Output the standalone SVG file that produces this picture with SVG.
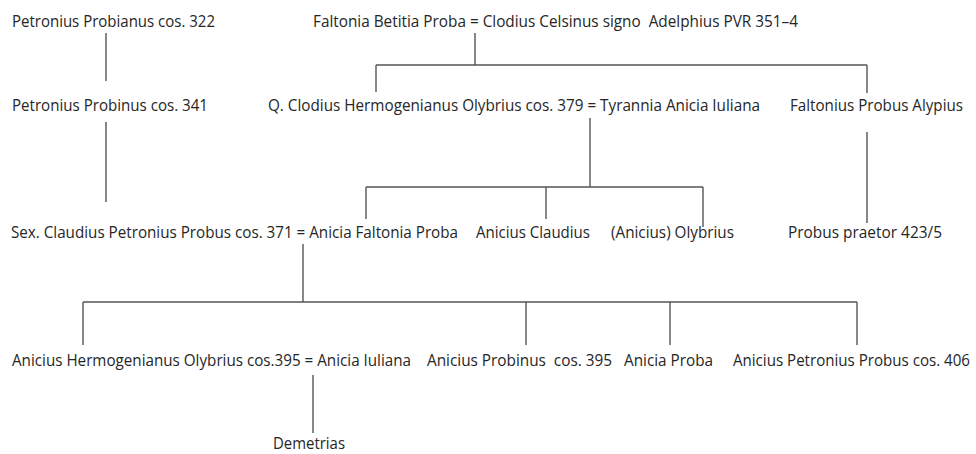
<svg xmlns="http://www.w3.org/2000/svg" width="976" height="454" viewBox="0 0 976 454">
<style>
text{font-family:"Open Sans","Noto Sans","Liberation Sans",sans-serif;font-size:16px;fill:#262626}
.c line{stroke:#555;stroke-width:1.4;fill:none}
</style>
<rect width="976" height="454" fill="#fff"/>
<g class="c" id="connectors">
<line x1="106" y1="33" x2="106" y2="81"/>
<line x1="106" y1="122" x2="106" y2="202"/>
<line x1="475" y1="33" x2="475" y2="65"/>
<line x1="376" y1="65" x2="867" y2="65"/>
<line x1="376" y1="65" x2="376" y2="92"/>
<line x1="867" y1="65" x2="867" y2="93"/>
<line x1="867" y1="132" x2="867" y2="223"/>
<line x1="590" y1="118" x2="590" y2="187"/>
<line x1="366" y1="187" x2="703" y2="187"/>
<line x1="366" y1="187" x2="366" y2="219"/>
<line x1="546" y1="187" x2="546" y2="219"/>
<line x1="703" y1="187" x2="703" y2="227"/>
<line x1="303" y1="244" x2="303" y2="302"/>
<line x1="83" y1="302" x2="857" y2="302"/>
<line x1="83" y1="302" x2="83" y2="345"/>
<line x1="526" y1="302" x2="526" y2="345"/>
<line x1="670" y1="302" x2="670" y2="345"/>
<line x1="857" y1="302" x2="857" y2="345"/>
<line x1="313" y1="375" x2="313" y2="433"/>
</g>
<g id="n1"><text x="12" y="27" textLength="203" lengthAdjust="spacingAndGlyphs">Petronius Probianus cos. 322</text></g>
<g id="n2"><text x="313" y="27" textLength="485" lengthAdjust="spacingAndGlyphs" xml:space="preserve">Faltonia Betitia Proba = Clodius Celsinus signo  Adelphius PVR 351–4</text></g>
<g id="n3"><text x="12" y="111" textLength="196" lengthAdjust="spacingAndGlyphs">Petronius Probinus cos. 341</text></g>
<g id="n4"><text x="268" y="111" textLength="492" lengthAdjust="spacingAndGlyphs">Q. Clodius Hermogenianus Olybrius cos. 379 = Tyrannia Anicia Iuliana</text></g>
<g id="n5"><text x="790" y="111" textLength="173" lengthAdjust="spacingAndGlyphs">Faltonius Probus Alypius</text></g>
<g id="n6"><text x="11" y="238" textLength="447" lengthAdjust="spacingAndGlyphs">Sex. Claudius Petronius Probus cos. 371 = Anicia Faltonia Proba</text></g>
<g id="n7"><text x="476" y="238" textLength="114" lengthAdjust="spacingAndGlyphs">Anicius Claudius</text></g>
<g id="n8"><text x="611" y="238" textLength="123" lengthAdjust="spacingAndGlyphs">(Anicius) Olybrius</text></g>
<g id="n9"><text x="788" y="238" textLength="154" lengthAdjust="spacingAndGlyphs">Probus praetor 423/5</text></g>
<g id="n10"><text x="12" y="366" textLength="399" lengthAdjust="spacingAndGlyphs">Anicius Hermogenianus Olybrius cos.395 = Anicia Iuliana</text></g>
<g id="n11"><text x="427" y="366" textLength="185" lengthAdjust="spacingAndGlyphs" xml:space="preserve">Anicius Probinus  cos. 395</text></g>
<g id="n12"><text x="624" y="366" textLength="89" lengthAdjust="spacingAndGlyphs">Anicia Proba</text></g>
<g id="n13"><text x="733" y="366" textLength="237" lengthAdjust="spacingAndGlyphs">Anicius Petronius Probus cos. 406</text></g>
<g id="n14"><text x="273" y="449" textLength="72" lengthAdjust="spacingAndGlyphs">Demetrias</text></g>
</svg>
